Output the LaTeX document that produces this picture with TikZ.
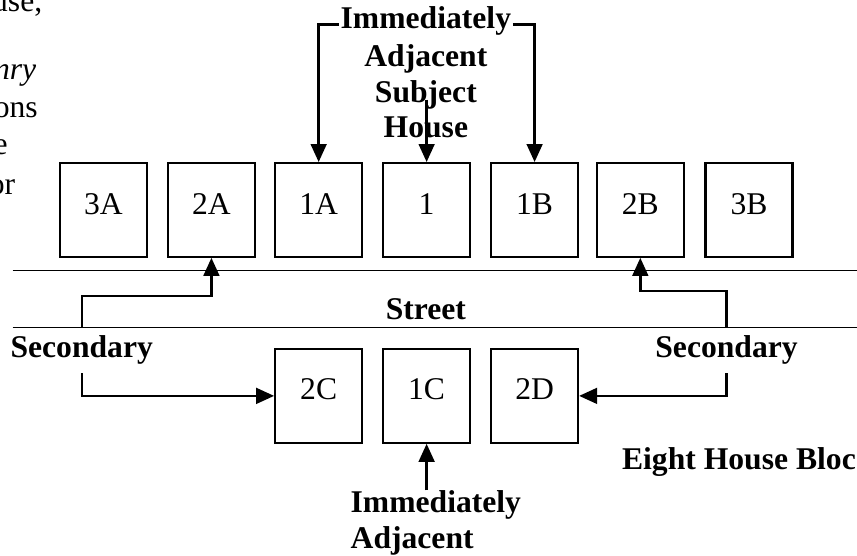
\documentclass[tikz,border=0pt]{standalone}
\usepackage{fontspec}
\setmainfont{Liberation Serif}
\usetikzlibrary{arrows.meta}

\begin{document}
\begin{tikzpicture}[
  house/.style={draw, line width=0.8pt, minimum width=1.16cm, minimum height=1.25cm,
    text depth=0.17cm, inner sep=0pt, font=\fontsize{12}{13.5}\selectfont},
  lbl/.style={inner sep=0pt, font=\fontsize{12}{13.5}\selectfont\bfseries},
  frag/.style={inner sep=0pt, anchor=base east, font=\fontsize{12}{13.5}\selectfont},
  conn/.style={line width=0.9pt, -{Triangle[length=0.24cm,width=0.21cm]}},
  street/.style={line width=0.6pt}]
\useasboundingbox (0,0) rectangle (11.43,7.41);
% cut-off text of the page beside the figure
\node[frag] (fr1) at (0.57,7.25) {use,};
\node[frag] (fr2) at (0.49,6.35) {\textit{nry}};
\node[frag] (fr3) at (0.51,5.84) {ons};
\node[frag] (fr4) at (0.11,5.35) {e};
\node[frag] (fr5) at (0.21,4.81) {or};
% houses across the street
\node[house] (h3A) at (1.38,4.61) {3A};
\node[house] (h2A) at (2.82,4.61) {2A};
\node[house] (h1A) at (4.25,4.61) {1A};
\node[house] (h1) at (5.69,4.61) {1};
\node[house] (h1B) at (7.13,4.61) {1B};
\node[house] (h2B) at (8.54,4.61) {2B};
\node[house] (h3B) at (9.99,4.61) {3B};
% houses on this side
\node[house] (h2C) at (4.25,2.13) {2C};
\node[house] (h1C) at (5.69,2.13) {1C};
\node[house] (h2D) at (7.13,2.13) {2D};
% street
\draw[street] (0.17,3.80) -- (11.43,3.80);
\draw[street] (0.17,3.04) -- (11.43,3.04);
\node[lbl, anchor=base] (street) at (5.68,3.15) {Street};
% top label
\node[lbl, anchor=base, inner xsep=0.5pt] (immT) at (5.68,7.03) {Immediately};
\node[lbl, anchor=north, align=center] (adjT) at (5.68,6.82) {Adjacent\\Subject\\House};
\coordinate (subjT) at (5.69,6.08);
\draw[conn] ([yshift=-0.05cm]immT.west) -| (h1A.north);
\draw[conn] ([yshift=-0.05cm]immT.east) -| (h1B.north);
\draw[conn] (subjT) -- (h1.north);
% secondary
\node[lbl, anchor=base, inner sep=3.2pt] (secL) at (1.09,2.64) {Secondary};
\node[lbl, anchor=base, inner sep=3.2pt] (secR) at (9.69,2.64) {Secondary};
\draw[conn] (secL.north) |- ([yshift=-0.51cm]h2A.south) -- (h2A.south);
\draw[conn] (secL.south) |- (h2C.west);
\draw[conn] (secR.north) |- ([yshift=-0.44cm]h2B.south) -- (h2B.south);
\draw[conn] (secR.south) |- (h2D.east);
% bottom label
\node[lbl, anchor=north west, align=left] (immB) at (4.67,0.87) {Immediately\\Adjacent};
\draw[conn] (immB.north -| h1C.south) -- (h1C.south);
\node[lbl, anchor=base west] (block) at (8.29,1.15) {Eight House Bloc};
\end{tikzpicture}
\end{document}
